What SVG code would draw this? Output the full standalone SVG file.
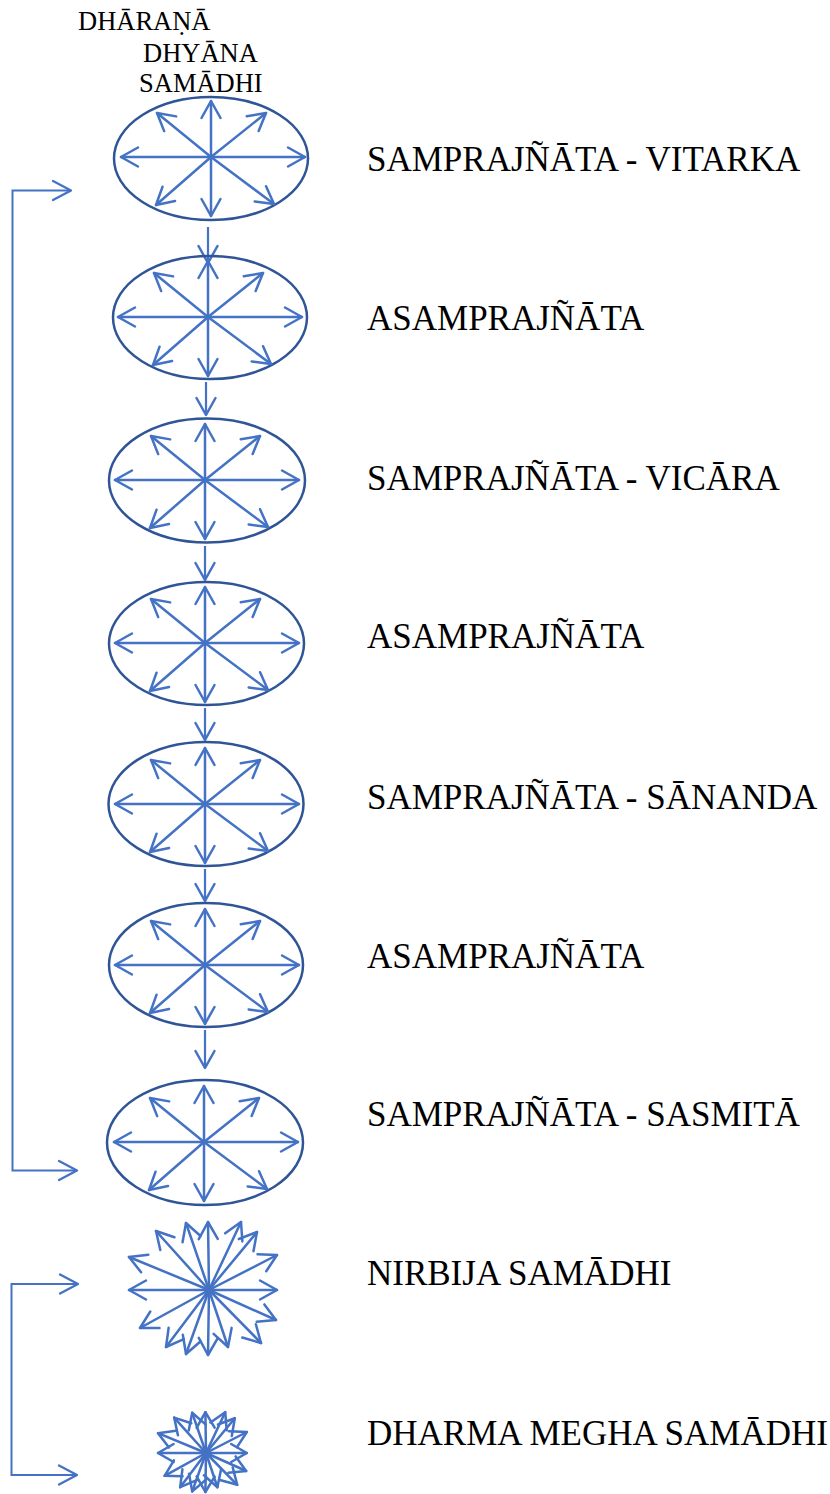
<svg xmlns="http://www.w3.org/2000/svg" xmlns:xlink="http://www.w3.org/1999/xlink" width="830" height="1494" viewBox="0 0 830 1494">
<style>
.ell{fill:none;stroke:#2F5597;stroke-width:2.5}
.ray{stroke:#4472C4;stroke-width:2.5;fill:none;stroke-linecap:round;marker-end:url(#ah)}
.ray2{stroke:#4472C4;stroke-width:4.2;fill:none;stroke-linecap:round;marker-end:url(#ah2)}
.con{stroke:#4472C4;stroke-width:2.2;fill:none;marker-end:url(#ah)}
.br{stroke:#4472C4;stroke-width:2;fill:none;marker-start:url(#ahb);marker-end:url(#ahb)}
.lbl{font-family:"Liberation Serif","Times New Roman",serif;font-size:35px;fill:#000}
.top{font-family:"Liberation Serif","Times New Roman",serif;font-size:26.5px;fill:#000}
</style>
<defs>
<marker id="ah" markerUnits="userSpaceOnUse" viewBox="-20 -12 22 24" refX="0" refY="0" markerWidth="22" markerHeight="24" orient="auto-start-reverse">
<path d="M-17,-9.5 L0,0 L-17,9.5" fill="none" stroke="#4472C4" stroke-width="2.5" stroke-linecap="round" stroke-linejoin="round"/>
</marker>
<marker id="ah2" markerUnits="userSpaceOnUse" viewBox="-32 -20 36 40" refX="0" refY="0" markerWidth="36" markerHeight="40" orient="auto">
<path d="M-26,-15 L0,0 L-26,15" fill="none" stroke="#4472C4" stroke-width="4.2" stroke-linecap="round" stroke-linejoin="round"/>
</marker>
<marker id="ahb" markerUnits="userSpaceOnUse" viewBox="-20 -12 22 24" refX="0" refY="0" markerWidth="22" markerHeight="24" orient="auto-start-reverse">
<path d="M-18,-9.5 L0,0 L-18,9.5" fill="none" stroke="#4472C4" stroke-width="2.3" stroke-linecap="round" stroke-linejoin="round"/>
</marker>
<g id="rays8">
<line class="ray" x1="0" y1="0" x2="-90" y2="0"/>
<line class="ray" x1="0" y1="0" x2="94" y2="0"/>
<line class="ray" x1="0" y1="0" x2="0" y2="-56"/>
<line class="ray" x1="0" y1="0" x2="0" y2="59"/>
<line class="ray" x1="0" y1="0" x2="-54" y2="-44"/>
<line class="ray" x1="0" y1="0" x2="55" y2="-44"/>
<line class="ray" x1="0" y1="0" x2="-55" y2="48"/>
<line class="ray" x1="0" y1="0" x2="63" y2="47"/>
</g>
<g id="rays16">
<line class="ray" x1="0" y1="0" x2="-1" y2="-68"/>
<line class="ray" x1="0" y1="0" x2="-23" y2="-67"/>
<line class="ray" x1="0" y1="0" x2="32" y2="-68"/>
<line class="ray" x1="0" y1="0" x2="-53" y2="-59"/>
<line class="ray" x1="0" y1="0" x2="48" y2="-58"/>
<line class="ray" x1="0" y1="0" x2="-80" y2="-33"/>
<line class="ray" x1="0" y1="0" x2="68" y2="-35"/>
<line class="ray" x1="0" y1="0" x2="-80" y2="0"/>
<line class="ray" x1="0" y1="0" x2="68" y2="0"/>
<line class="ray" x1="0" y1="0" x2="-69" y2="38"/>
<line class="ray" x1="0" y1="0" x2="67" y2="30"/>
<line class="ray" x1="0" y1="0" x2="-43" y2="57"/>
<line class="ray" x1="0" y1="0" x2="52" y2="53"/>
<line class="ray" x1="0" y1="0" x2="-23" y2="64"/>
<line class="ray" x1="0" y1="0" x2="19" y2="57"/>
<line class="ray" x1="0" y1="0" x2="-1" y2="65"/>
</g>
<g id="rays16s">
<line class="ray2" x1="0" y1="0" x2="-1" y2="-68"/>
<line class="ray2" x1="0" y1="0" x2="-23" y2="-67"/>
<line class="ray2" x1="0" y1="0" x2="32" y2="-68"/>
<line class="ray2" x1="0" y1="0" x2="-53" y2="-59"/>
<line class="ray2" x1="0" y1="0" x2="48" y2="-58"/>
<line class="ray2" x1="0" y1="0" x2="-80" y2="-33"/>
<line class="ray2" x1="0" y1="0" x2="68" y2="-35"/>
<line class="ray2" x1="0" y1="0" x2="-80" y2="0"/>
<line class="ray2" x1="0" y1="0" x2="68" y2="0"/>
<line class="ray2" x1="0" y1="0" x2="-69" y2="38"/>
<line class="ray2" x1="0" y1="0" x2="67" y2="30"/>
<line class="ray2" x1="0" y1="0" x2="-43" y2="57"/>
<line class="ray2" x1="0" y1="0" x2="52" y2="53"/>
<line class="ray2" x1="0" y1="0" x2="-23" y2="64"/>
<line class="ray2" x1="0" y1="0" x2="19" y2="57"/>
<line class="ray2" x1="0" y1="0" x2="-1" y2="65"/>
</g>
</defs>
<rect width="830" height="1494" fill="#fff"/>

<g id="header">
<text class="top" x="78" y="30">DHĀRAṆĀ</text>
<text class="top" x="143" y="62">DHYĀNA</text>
<text class="top" x="139" y="92">SAMĀDHI</text>
</g>

<g id="connectors">
<line class="con" x1="208" y1="227" x2="208" y2="263"/>
<line class="con" x1="206" y1="382" x2="206" y2="415"/>
<line class="con" x1="205" y1="546" x2="205" y2="580"/>
<line class="con" x1="205" y1="708" x2="205" y2="740"/>
<line class="con" x1="205" y1="869" x2="205" y2="901"/>
<line class="con" x1="205" y1="1030" x2="205" y2="1068"/>
<path class="br" d="M71,190.5 L12.5,190.5 L12.5,1170.5 L77,1170.5"/>
<path class="br" d="M78,1284 L11.5,1284 L11.5,1475 L77,1475"/>
</g>

<g id="n1">
<ellipse class="ell" cx="211" cy="158.5" rx="97" ry="61.5"/>
<use xlink:href="#rays8" transform="translate(211,157)"/>
<text class="lbl" x="367" y="171">SAMPRAJÑĀTA - VITARKA</text>
</g>
<g id="n2">
<ellipse class="ell" cx="210" cy="317.5" rx="97" ry="61.5"/>
<use xlink:href="#rays8" transform="translate(208,317)"/>
<text class="lbl" x="367" y="330">ASAMPRAJÑĀTA</text>
</g>
<g id="n3">
<ellipse class="ell" cx="207" cy="480.5" rx="98" ry="62"/>
<use xlink:href="#rays8" transform="translate(205,480)"/>
<text class="lbl" x="367" y="490">SAMPRAJÑĀTA - VICĀRA</text>
</g>
<g id="n4">
<ellipse class="ell" cx="206.5" cy="643.5" rx="97.5" ry="61.5"/>
<use xlink:href="#rays8" transform="translate(205,643)"/>
<text class="lbl" x="367" y="648">ASAMPRAJÑĀTA</text>
</g>
<g id="n5">
<ellipse class="ell" cx="206" cy="804" rx="97.5" ry="62"/>
<use xlink:href="#rays8" transform="translate(205,804)"/>
<text class="lbl" x="367" y="809">SAMPRAJÑĀTA - SĀNANDA</text>
</g>
<g id="n6">
<ellipse class="ell" cx="206" cy="965" rx="97" ry="62"/>
<use xlink:href="#rays8" transform="translate(205,965)"/>
<text class="lbl" x="367" y="968">ASAMPRAJÑĀTA</text>
</g>
<g id="n7">
<ellipse class="ell" cx="205" cy="1142.5" rx="98" ry="62.5"/>
<use xlink:href="#rays8" transform="translate(204,1142)"/>
<text class="lbl" x="367" y="1126">SAMPRAJÑĀTA - SASMITĀ</text>
</g>
<g id="n8">
<use xlink:href="#rays16" transform="translate(209,1290)"/>
<text class="lbl" x="367" y="1285">NIRBIJA SAMĀDHI</text>
</g>
<g id="n9">
<use xlink:href="#rays16s" transform="translate(206,1453) scale(0.6)"/>
<text class="lbl" x="367" y="1445">DHARMA MEGHA SAMĀDHI</text>
</g>
</svg>
